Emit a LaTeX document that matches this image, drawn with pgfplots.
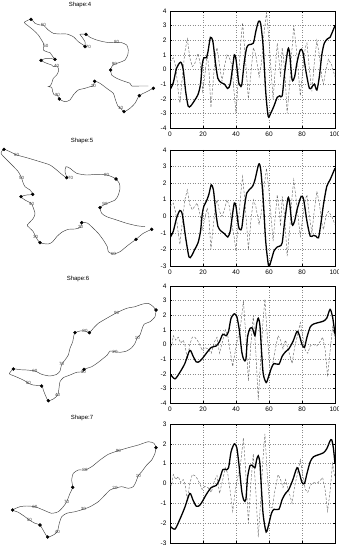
\documentclass[border=0pt]{standalone}
\usepackage{pgfplots}
\pgfplotsset{compat=1.18}
\usepackage{fontspec}
\setmainfont{Liberation Sans}

\pgfplotsset{
  ts/.style={
    scale only axis, width=165pt, height=117pt, anchor=south west,
    xmin=0, xmax=100, xtick={0,20,...,100},
    grid=major, grid style={black!45, line width=0.4pt, dash pattern=on 0.5pt off 2pt},
    axis line style={line width=0.5pt},
    tick style={black, line width=0.4pt}, major tick length=2pt,
    tick label style={font=\fontsize{6.5}{7}\selectfont},
    /pgf/number format/assume math mode=true,
  },
  sig/.style={black, line width=1.3pt, smooth, tension=0.45},
  ns/.style={black!60, line width=0.45pt, dash pattern=on 2.4pt off 1.6pt},
  shp/.style={black!75, line width=0.45pt, smooth, tension=0.4},
  dot/.style={only marks, mark=*, mark size=1.5pt, black},
}

\begin{document}
\begin{tikzpicture}
\path[use as bounding box, clip] (0pt,0pt) rectangle (338pt,545pt);

% left column: the four shapes, in picture pixels (y downwards)
\begin{axis}[at={(0pt,0pt)}, anchor=south west, scale only axis,
  width=338pt, height=545pt, xmin=0, xmax=338, ymin=0, ymax=545,
  y dir=reverse, hide axis, clip=false]
\tikzset{lab/.style={font=\fontsize{4.5}{5}\selectfont, text=black!75, inner sep=0pt}}
\tikzset{ttl/.style={font=\fontsize{6}{7}\selectfont, inner sep=0pt}}

% Shape 4
\addplot[shp] coordinates {(153.3,88.3) (146.7,91.7) (139.3,95.7) (135,103.3) (130,108.3) (124,111.7) (120.7,108.3) (118.3,106.7) (116.7,103.3) (115,98.3) (113.3,93.3) (106.7,88.3) (100,83.3) (94.7,81.3) (93.3,86) (90,86.7) (85,88.3) (78.3,90) (73.3,95) (70,100) (65,101.7) (59.3,99) (57.3,95) (54.3,95) (52.7,91.7) (51.7,87.3) (48.3,86.7) (50,86) (51.7,83.3) (53.3,78.3) (56.7,75) (58.3,71.7) (58.3,68.3) (56.7,66) (53.3,66.7) (51.7,65) (46.7,63.3) (41,60.3) (46.7,58.3) (51.7,58.7) (55,59.3) (53.3,57.3) (50,52.7) (46.7,51.7) (43.3,50) (44,46) (43.3,43) (38.3,35) (33.3,30) (28.3,26) (24.3,22.3) (31,19.3) (35,23.3) (40,25) (43.3,25) (48.3,30) (53.3,33.3) (60,34) (66.7,34) (73.3,36.7) (78.3,41.7) (83.3,45) (85,46.7) (85,41.7) (81.7,36.7) (80,34.3) (86,34.3) (90,37.3) (96.7,40) (103.3,41.7) (110,42.7) (116.7,42.3) (121.7,42.7) (126.7,45) (128.3,50) (127.7,55) (125,60) (120,62.3) (114.3,64.3) (111.7,66.7) (110.7,70) (111.7,75) (116.7,78.3) (123.3,81) (130,83.3) (131.7,86) (140,86) (148.3,86)};
\addplot[dot] coordinates {(153.3,88.3) (139.3,95.7) (124,111.7) (94.7,81.3) (59.3,99) (41,60.3) (55,59.3) (31,19.3) (85,46.7) (86,34.3) (110.7,70)};
\node[ttl] at (axis cs:80,5) {Shape:4};
\node[lab] at (axis cs:120.7,108.3) {10};
\node[lab] at (axis cs:93.3,86) {20};
\node[lab] at (axis cs:57.3,95) {30};
\node[lab] at (axis cs:56.7,66) {40};
\node[lab] at (axis cs:46,46) {50};
\node[lab] at (axis cs:43.3,25) {60};
\node[lab] at (axis cs:88.3,47.3) {70};
\node[lab] at (axis cs:116.7,42.3) {80};
\node[lab] at (axis cs:114.3,64.3) {90};

% Shape 5
\addplot[shp] coordinates {(151.7,229.3) (143.3,233.3) (136,239.3) (128.3,245) (120,251.7) (113.3,254) (108.3,251.7) (107.3,246.7) (103.3,240) (98.3,233.3) (93.3,228.3) (87.3,223) (81.7,222.7) (80.7,227.3) (75,229) (68.3,229.3) (61.7,232.3) (56.7,236.7) (52.7,241.7) (48.3,244) (40,242.7) (35.7,236.7) (33.3,231.7) (28.3,226.7) (27.3,225) (33.3,218.3) (35,213.3) (31.7,204) (28.3,201.7) (25,200) (21,196.7) (26.7,195) (32.7,194.3) (30,190) (25,186.7) (22.7,181.7) (21.7,178.3) (18.3,171.7) (10,163) (3,156) (1,153) (4,149.3) (13.3,153.3) (16.7,155) (26.7,157.7) (40,161.7) (50,165) (56.7,170) (61.7,174.3) (66.7,177.7) (65,171.7) (66,166.7) (70,168.3) (76.7,173.3) (86.7,175) (96.7,174.3) (106.7,175) (111.7,176.7) (116,179) (119.3,183.3) (120,188.3) (118.3,195) (115,200) (105,204.3) (100,207.7) (101.7,213.3) (106.7,216.7) (116.7,220) (126.7,223.3) (136.7,225.7) (145,226.7)};
\addplot[dot] coordinates {(151.7,229.3) (136,239.3) (81.7,222.7) (40,242.7) (21,196.7) (32.7,194.3) (4,149.3) (66.7,177.7) (116,179) (100,207.7)};
\node[ttl] at (axis cs:82,140.7) {Shape:5};
\node[lab] at (axis cs:113.3,254) {10};
\node[lab] at (axis cs:80.7,227.3) {20};
\node[lab] at (axis cs:35.7,236.7) {30};
\node[lab] at (axis cs:31.7,204) {40};
\node[lab] at (axis cs:21.7,178.3) {50};
\node[lab] at (axis cs:16.7,155) {60};
\node[lab] at (axis cs:70.7,178.3) {70};
\node[lab] at (axis cs:106.7,175) {80};
\node[lab] at (axis cs:105,204.3) {90};

% Shape 6
\addplot[shp] coordinates {(156,310) (155,316.7) (150,321.7) (144,324.3) (141.7,330) (140,335) (137.3,337.7) (135,343.3) (131.7,347.7) (126.7,351) (120,352.3) (115,351.7) (110,351) (107.3,355) (103.3,358.3) (98.3,362.3) (91.7,366.7) (84,369.3) (83.3,371.7) (76.7,372.3) (70,375) (63.3,377.7) (60,381.7) (59,388.3) (57.7,395) (53.3,399) (48.3,400.7) (46,396.7) (43.3,390) (41.7,386) (33.3,385) (28.3,383.3) (25,381) (18.3,377.7) (11.7,375) (9.3,373.7) (13.3,369) (20,369.7) (26.7,370) (35,371) (41.7,374.3) (50,376) (56.7,374.3) (60,371) (61.7,364.3) (65,360) (68.3,355) (70,348.3) (72.7,341.7) (74,335) (75,332.7) (80,331) (85,331) (89.3,332.7) (93.3,328.3) (98.3,323.3) (106.7,318.3) (116.7,312.7) (126.7,308.3) (135,306.7) (141.7,304.3) (148.3,303.3) (153.3,306.7) (155.3,309.3)};
\addplot[dot] coordinates {(156,310) (84,369.3) (48.3,400.7) (41.7,386) (13.3,369) (75,332.7) (89.3,332.7)};
\node[ttl] at (axis cs:78,279.3) {Shape:6};
\node[lab] at (axis cs:137.3,337.7) {10};
\node[lab] at (axis cs:115,351.7) {20};
\node[lab] at (axis cs:83.3,371.7) {30};
\node[lab] at (axis cs:57.7,395) {40};
\node[lab] at (axis cs:28.3,383.3) {50};
\node[lab] at (axis cs:35,371) {60};
\node[lab] at (axis cs:61.7,364.3) {70};
\node[lab] at (axis cs:85,331) {80};
\node[lab] at (axis cs:116.7,312.7) {90};

% Shape 7
\addplot[shp] coordinates {(156,447.7) (155,453.3) (151.7,460) (146.7,465) (141.7,471.7) (138.3,475.7) (136,481.7) (133.3,486.7) (128.3,488.3) (121.7,486.7) (115,488.3) (110,490) (105,495) (98.3,501.7) (90,506.7) (83.3,509.3) (75,511.7) (66.7,513.3) (61.7,516.7) (59.3,523.3) (57.3,531.7) (53.3,535) (47.7,537) (44,531.7) (40,525) (35,523.3) (29.3,520) (25,516.7) (18.3,512.3) (12.7,510) (20,506.7) (26.7,506) (35,506.7) (43.3,510) (51.7,513.3) (58.3,511.7) (63.3,506.7) (66.7,501.7) (70,493.3) (72.7,487.3) (71.7,480) (73.3,473.3) (78.3,470) (85,470) (91.7,466.7) (100,460) (108.3,454.3) (118.3,450.7) (128.3,447.7) (138.3,445) (148.3,441.7) (154,443.3) (155.7,446.7)};
\addplot[dot] coordinates {(156,447.7) (47.7,537) (40,525) (12.7,510) (72.7,487.3)};
\node[ttl] at (axis cs:82,418.3) {Shape:7};
\node[lab] at (axis cs:138.3,475.7) {10};
\node[lab] at (axis cs:115,488.3) {20};
\node[lab] at (axis cs:83.3,509.3) {30};
\node[lab] at (axis cs:57.3,531.7) {40};
\node[lab] at (axis cs:29.3,520) {50};
\node[lab] at (axis cs:35,506.7) {60};
\node[lab] at (axis cs:66.7,501.7) {70};
\node[lab] at (axis cs:85,470) {80};
\node[lab] at (axis cs:118.3,450.7) {90};
\end{axis}

% right column: time series
\begin{axis}[ts, at={(170pt,417pt)}, ymin=-4, ymax=4, ytick={-4,-3,...,4}]
\addplot[ns] coordinates {(0,0.5) (2,0.8) (3.5,0.2) (5,-1.5) (6,-2.3) (7.5,-0.5) (9,1.2) (10.5,2.1) (12,0.8) (13.5,0.2) (15,0.4) (17,1.1) (18.5,0.3) (19.8,-1.5) (21,-0.5) (22.5,1.0) (23.5,0.2) (24.8,-2.6) (26,-1.0) (27.5,1.0) (28.5,1.5) (30,0.3) (31.5,-0.8) (33,0.2) (34.5,1.0) (36,0.8) (37.5,0.3) (38.8,-1.5) (40,-3.0) (41.5,-0.5) (43,2.0) (44,3.2) (45.5,1.0) (47.5,-2.0) (49,-0.3) (50.5,1.5) (52,1.0) (54,-0.5) (55.5,0.5) (57,2.5) (58.5,3.9) (60,2.0) (61.5,-0.5) (62.5,-2.0) (63.8,0.0) (65,1.8) (66.2,0.5) (67,-0.5) (68,1.5) (69.5,0.0) (71,-3.0) (72.5,-1.0) (74,1.5) (75,3.0) (76.5,1.5) (78,-0.5) (79,-1.8) (80.5,0.0) (82,1.5) (83,1.8) (84.5,0.0) (86,-1.5) (87.5,0.5) (89,2.0) (90.5,1.0) (92,-0.5) (93,-1.0) (94.5,0.0) (96,0.7) (98,0.3) (100,-0.5)};
\addplot[sig] coordinates {(0,-1.4) (2,-0.9) (4,0.1) (6.5,0.5) (8,0) (9.5,-1.5) (11,-2.5) (12.5,-2.5) (15,-2.1) (17,-1.7) (18.5,-1) (19.5,0.3) (20.5,0.8) (22,0.8) (23,1.2) (24.5,2.2) (26,1.9) (27.5,0.5) (29,-0.6) (31,-0.9) (33,-1.0) (35,-1.3) (36.5,-1.0) (38,0.2) (39,1.0) (40,0.7) (41.5,-0.8) (42.5,-1.1) (43.5,-1.05) (45,0.5) (46.5,1.5) (48,1.7) (50.5,1.8) (52,2.6) (53.7,3.3) (55,3.1) (56.5,1.5) (58,-1.5) (59.5,-3.2) (61,-3.0) (63,-2.5) (65,-1.9) (66.5,-1.8) (68,-1.8) (69.5,-0.2) (71.5,1.4) (72.5,1.1) (74,-0.7) (75.5,-0.5) (77,0.5) (79,1.35) (80.5,1.2) (82.5,-0.2) (84.5,-1.3) (86,-1.2) (87.5,-1.0) (89,-1.4) (90.5,-0.5) (92,1.0) (93.5,1.8) (95.5,2.1) (97,2.2) (100,3.0)};
\end{axis}

\begin{axis}[ts, at={(170pt,279pt)}, height=116pt, ymin=-3, ymax=4, ytick={-3,-2,...,4}]
\addplot[ns] coordinates {(0,0.6) (2,0.8) (3.5,0.2) (5,-1.0) (6,-1.7) (7.5,-0.3) (9,1.0) (10.5,1.6) (12,0.7) (13.5,0.4) (15,0.6) (16.5,0.8) (18,0.2) (19.5,-0.8) (21,-0.2) (22.5,0.5) (23.5,0.0) (24.8,-2.0) (26,-0.8) (27.5,0.6) (28.5,1.0) (30,0.3) (31.5,0.0) (33,0.4) (34.5,1.0) (36,0.6) (37.5,-0.5) (38.8,-1.2) (40,-2.1) (41.5,-0.3) (43,1.5) (44,2.4) (45.5,0.8) (47.5,-2.0) (49,-0.3) (50.5,1.0) (52,0.6) (54,-0.5) (55.5,0.3) (57,1.8) (58.5,2.9) (60,1.5) (61.5,-0.3) (62.5,-1.5) (63.8,0.0) (65,1.3) (66.2,0.3) (67,-0.6) (68,1.2) (69.5,0.0) (71,-2.4) (72.5,-0.8) (74,1.2) (75,2.2) (76.5,1.0) (78,-0.4) (79,-1.2) (80.5,0.0) (82,1.0) (83,1.3) (84.5,0.0) (86,-1.0) (87.5,0.4) (89,1.5) (90.5,0.8) (92,-0.4) (93,-0.8) (94.5,0.0) (96,0.3) (98,0.0) (100,-0.5)};
\addplot[sig] coordinates {(0,-1.3) (2,-0.9) (4,-0.1) (6,0.35) (7.5,0.1) (9.5,-1.3) (11.5,-2.45) (13,-2.4) (15,-2.0) (17,-1.6) (18.5,-0.9) (19.5,0.1) (20.5,0.6) (22,0.9) (23.5,1.3) (25,1.9) (26.3,1.6) (27.5,0.5) (29,-0.6) (31,-0.9) (33,-1.05) (35,-1.25) (36.5,-0.9) (38,0.2) (39,0.8) (40,0.6) (41.5,-0.6) (42.5,-0.8) (43.5,-0.7) (45,0.5) (46.5,1.4) (48,1.6) (50,1.8) (51.5,2.2) (53.8,3.15) (55,2.8) (56.5,1.0) (58,-1.5) (59.8,-3.0) (61.5,-2.6) (63,-2.1) (65,-1.85) (66.5,-1.8) (68,-1.6) (69.5,-0.3) (71.5,1.1) (72.5,0.8) (74,-0.5) (75.5,-0.3) (77,0.4) (79.5,1.2) (81,1.0) (83,-0.3) (85,-1.2) (87,-1.15) (88.5,-1.2) (90,-1.3) (91.5,-0.4) (93,0.7) (95,1.8) (97,2.2) (100,2.9)};
\end{axis}

\begin{axis}[ts, at={(170pt,142pt)}, ymin=-4, ymax=4, ytick={-4,-3,...,4}]
\addplot[ns] coordinates {(0,0.0) (1,-0.1) (2,0.6) (3.5,0.3) (5,0.5) (6.5,0.1) (8,0.3) (9,0.0) (10.5,-1.0) (12,0.0) (13.5,0.5) (15,0.5) (16.5,0.3) (18,0.0) (19.5,-0.4) (21,-0.2) (23,-0.3) (25,-0.6) (27,0.2) (28.5,0.5) (30,-0.6) (32,0.3) (33.5,1.0) (35,0.6) (36.5,-0.5) (38,-1.5) (39.5,-0.5) (41,0.4) (42.5,1.0) (44.5,3.0) (46,0.5) (47.5,-2.5) (49,0.0) (50.5,2.0) (52,-0.5) (53.5,-3.8) (55,-1.0) (56.3,1.5) (57.5,3.1) (59,0.5) (60.5,-1.5) (62,-1.5) (63.5,-0.5) (65.5,0.6) (67,0.3) (68.5,-0.3) (70,0.3) (72,-0.5) (74,-1.3) (75.5,-0.2) (77,0.5) (79,1.5) (80.5,0.5) (82,-0.4) (83.5,-0.6) (85,-0.1) (87,0.0) (89,-0.1) (91,0.2) (92.5,0.5) (94,-0.3) (95.5,-2.2) (97,-0.5) (98.5,1.2) (100,0.4)};
\addplot[sig] coordinates {(0,-2.0) (3,-2.35) (6,-1.9) (9,-1.3) (12,-0.4) (14,-0.8) (16,-1.2) (18,-1.15) (20,-0.9) (22,-0.6) (25,-0.2) (28,-0.1) (30,0.2) (32,0.7) (34,0.6) (35.5,0.9) (37,1.8) (39,2.1) (40.5,1.9) (42,1.0) (43.5,-0.5) (44.8,-1.05) (46,-1.0) (47,0.5) (48.5,1.1) (50,1.1) (51.5,0.6) (52.5,1.4) (53.5,1.8) (54.5,1.3) (55.5,-0.5) (56.5,-2.0) (58.3,-2.6) (60,-2.1) (61.5,-1.6) (63,-1.3) (66,-1.35) (68,-0.8) (70,-0.5) (72,-0.3) (74.5,0.2) (77,0.9) (78.5,0.6) (80,0.0) (81.5,-0.2) (83,0.5) (85,1.2) (87,1.4) (90,1.5) (93,1.6) (95,1.8) (97,2.4) (98.5,1.9) (100,0.7)};
\end{axis}

\begin{axis}[ts, at={(170pt,2pt)}, height=119pt, ymin=-3, ymax=3, ytick={-3,-2,...,3}, xticklabels={}]
\addplot[ns] coordinates {(0,0.0) (1,-0.1) (2,0.45) (3.5,0.2) (5,0.35) (6.5,0.05) (8,0.2) (9,0.0) (10.5,-0.8) (12,0.0) (13.5,0.45) (15,0.4) (16.5,0.25) (18,0.0) (19.5,-0.3) (21,-0.15) (23,-0.2) (25,-0.45) (27,0.15) (28.5,0.4) (30,-0.5) (32,0.2) (33.5,0.8) (35,0.5) (36.5,-0.4) (38,-1.4) (39.5,-0.4) (41,0.3) (42.5,0.8) (44.5,2.3) (46,0.4) (47.5,-2.0) (49,0.0) (50.5,1.5) (52,-0.4) (53.5,-2.7) (55,-0.8) (56.3,1.2) (57.5,2.5) (59,0.4) (60.5,-1.2) (62,-1.2) (63.5,-0.4) (65.5,0.45) (67,0.2) (68.5,-0.2) (70,0.2) (72,-0.4) (74,-1.0) (75.5,-0.15) (77,0.4) (79,1.2) (80.5,0.4) (82,-0.3) (83.5,-0.45) (85,-0.1) (87,0.05) (89,0.0) (91,0.15) (92.5,0.3) (94,-0.3) (95.5,-1.4) (97,-0.4) (98.5,1.0) (100,0.3)};
\addplot[sig] coordinates {(0,-2.15) (3,-2.3) (6,-1.8) (9,-1.2) (12,-0.5) (14,-0.85) (16,-1.15) (18,-1.1) (20,-0.85) (22,-0.55) (25,-0.2) (28,-0.1) (30,0.2) (32,0.7) (34,0.7) (35.5,0.8) (37,1.6) (39,2.0) (40.5,1.8) (42,0.8) (43.5,-0.4) (44.8,-0.85) (46,-0.8) (47,0.3) (48.5,0.9) (50,0.9) (51.5,0.8) (52.5,1.2) (53.5,1.4) (54.5,1.0) (55.5,-0.4) (56.5,-1.6) (58.3,-2.45) (60,-2.0) (61.5,-1.5) (63,-1.3) (66,-1.3) (68,-0.8) (70,-0.5) (72,-0.3) (74.5,0.2) (77,0.8) (78.5,0.5) (80,0.05) (81.5,0.0) (83,0.5) (85,1.1) (87,1.35) (90,1.45) (93,1.55) (95,1.75) (97,2.15) (98,2.2) (99,1.8) (100,1.0)};
\end{axis}
\end{tikzpicture}
\end{document}
